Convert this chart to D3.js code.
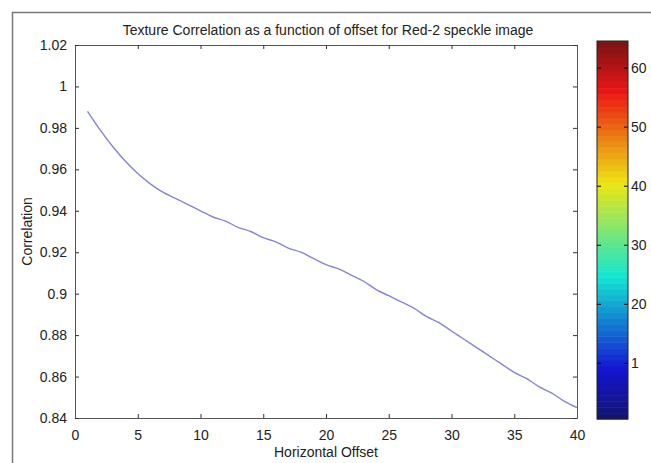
<!DOCTYPE html>
<html>
<head>
<meta charset="utf-8">
<script src="https://cdn.jsdelivr.net/npm/d3@7"></script>
<style>
  body { margin: 0; background: #fff; }
  svg text { font-family: "Liberation Sans", Arial, sans-serif; fill: #222; }
</style>
</head>
<body>
<div id="chart"></div>
<script>
// horizontal offset (pixels) and texture correlation
var offsets = [1,2,3,4,5,6,7,8,9,10,11,12,13,14,15,16,17,18,19,20,
               21,22,23,24,25,26,27,28,29,30,31,32,33,34,35,36,37,38,39,40];
var correlation = [0.988,0.979,0.971,0.964,0.958,0.953,0.949,0.946,0.943,0.940,
                   0.937,0.935,0.932,0.930,0.927,0.925,0.922,0.920,0.917,0.914,
                   0.912,0.909,0.906,0.902,0.899,0.896,0.893,0.889,0.886,0.882,
                   0.878,0.874,0.870,0.866,0.862,0.859,0.855,0.852,0.848,0.845];
var xTicks = [0,5,10,15,20,25,30,35,40];
var yTicks = [0.84,0.86,0.88,0.9,0.92,0.94,0.96,0.98,1,1.02];
var cbTicks = [10,20,30,40,50,60];
var cbLabels = ['1','20','30','40','50','60'];
var cbLevels = d3.range(1, 65);

var W = 651, H = 463;
var svg = d3.select('#chart').append('svg')
  .attr('width', W).attr('height', H);

// outer figure frame (only top + left visible)
svg.append('path')
  .attr('d', 'M12.5,' + H + 'V12.5H' + W)
  .attr('fill', 'none').attr('stroke', '#7a7a7a').attr('stroke-width', 1.5);

var plot = {left: 75, right: 577, top: 45, bottom: 418};

var x = d3.scaleLinear().domain([0, 40]).range([plot.left, plot.right]);
var y = d3.scaleLinear().domain([0.84, 1.02]).range([plot.bottom, plot.top]);

var tk = 4; // inward tick length
function fmt(d) { return d3.format('')(+d.toFixed(2)); }

var g = svg.append('g');

// axes: ticks drawn inside, matlab style
g.append('g').attr('transform', 'translate(0,' + plot.bottom + ')')
  .call(d3.axisBottom(x).tickValues(xTicks).tickSize(-tk).tickPadding(12).tickSizeOuter(0))
  .call(function(a) { a.selectAll('text').attr('font-size', 14).attr('dy', '0.71em'); });
g.append('g').attr('transform', 'translate(0,' + plot.top + ')')
  .call(d3.axisTop(x).tickValues(xTicks).tickSize(-tk).tickFormat('').tickSizeOuter(0));
g.append('g').attr('transform', 'translate(' + plot.left + ',0)')
  .call(d3.axisLeft(y).tickValues(yTicks).tickSize(-tk).tickPadding(8).tickFormat(fmt).tickSizeOuter(0))
  .call(function(a) { a.selectAll('text').attr('font-size', 14); });
g.append('g').attr('transform', 'translate(' + plot.right + ',0)')
  .call(d3.axisRight(y).tickValues(yTicks).tickSize(-tk).tickFormat('').tickSizeOuter(0));

g.selectAll('.domain').attr('stroke', '#555');
g.selectAll('.tick line').attr('stroke', '#333');

// curve
var line = d3.line()
  .x(function(d, i) { return x(offsets[i]); })
  .y(function(d) { return y(d); })
  .curve(d3.curveMonotoneX);
svg.append('path').datum(correlation)
  .attr('d', line)
  .attr('fill', 'none')
  .attr('stroke', '#8585d6')
  .attr('stroke-width', 1.4);

// labels
svg.append('text').attr('x', (plot.left + plot.right) / 2 + 2).attr('y', 35)
  .attr('text-anchor', 'middle').attr('font-size', 14)
  .text('Texture Correlation as a function of offset for Red-2 speckle image');
svg.append('text').attr('x', (plot.left + plot.right) / 2).attr('y', 457)
  .attr('text-anchor', 'middle').attr('font-size', 14)
  .text('Horizontal Offset');
svg.append('text')
  .attr('transform', 'translate(32,' + ((plot.top + plot.bottom) / 2) + ') rotate(-90)')
  .attr('text-anchor', 'middle').attr('font-size', 14)
  .text('Correlation');

// colorbar (jet, 64 levels, slightly muted like the print)
function jet(t) {
  function c(v) { return Math.max(0, Math.min(1, v)); }
  var r = c(1.5 - Math.abs(4 * t - 3));
  var gg = c(1.5 - Math.abs(4 * t - 2));
  var b = c(1.5 - Math.abs(4 * t - 1));
  return d3.rgb(20 + r * 215, 20 + gg * 210, 20 + b * 190);
}
var cb = {left: 597, right: 628, top: 41, bottom: 419};
var cy = d3.scaleLinear().domain([0.5, 64.5]).range([cb.bottom, cb.top]);

svg.append('g').selectAll('rect').data(cbLevels).enter()
  .append('rect')
  .attr('x', cb.left).attr('width', cb.right - cb.left)
  .attr('y', function(d) { return cy(d + 0.5); })
  .attr('height', function(d) { return cy(d - 0.5) - cy(d + 0.5) + 0.5; })
  .attr('fill', function(d) { return jet((d - 1) / 63); });

var cbAxis = svg.append('g').attr('transform', 'translate(' + cb.right + ',0)')
  .call(d3.axisRight(cy).tickValues(cbTicks).tickSize(-tk).tickPadding(3)
    .tickFormat(function(d, i) { return cbLabels[i]; }).tickSizeOuter(0));
cbAxis.selectAll('text').attr('font-size', 14);
cbAxis.select('.domain').remove();
svg.append('g').attr('transform', 'translate(' + cb.left + ',0)')
  .call(d3.axisLeft(cy).tickValues(cbTicks).tickSize(-tk).tickFormat('').tickSizeOuter(0))
  .select('.domain').remove();
svg.append('rect')
  .attr('x', cb.left).attr('y', cb.top)
  .attr('width', cb.right - cb.left).attr('height', cb.bottom - cb.top)
  .attr('fill', 'none').attr('stroke', '#222').attr('stroke-width', 1);
</script>
</body>
</html>
